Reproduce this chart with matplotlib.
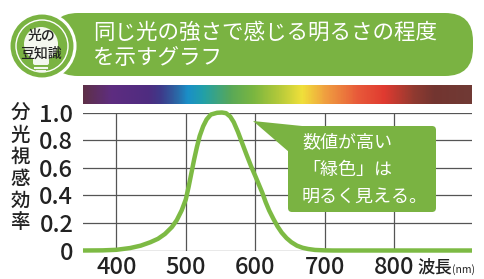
import numpy as np
import matplotlib.pyplot as plt
from matplotlib.colors import LinearSegmentedColormap
from matplotlib.patches import FancyBboxPatch, Circle, Polygon

plt.rcParams['font.family'] = ['Noto Sans CJK JP', 'DejaVu Sans']

# === データ ===
wavelength = [352, 380, 400, 420, 435, 449, 460, 470, 480, 487, 494, 500, 504, 508, 512,
              516, 520, 525, 530, 536, 545, 552, 558, 564, 569, 575, 581, 587, 594, 600,
              605, 610, 615, 620, 626, 632, 638, 645, 652, 660, 668, 676, 686, 700, 712, 912]
efficiency = [0.0, 0.001, 0.005, 0.018, 0.035, 0.06, 0.085, 0.12, 0.17, 0.22, 0.29, 0.37,
              0.46, 0.56, 0.66, 0.75, 0.83, 0.90, 0.95, 0.985, 0.998, 1.0, 0.995, 0.97,
              0.93, 0.86, 0.78, 0.70, 0.61, 0.54, 0.48, 0.42, 0.35, 0.29, 0.23, 0.175,
              0.13, 0.09, 0.06, 0.035, 0.02, 0.011, 0.004, 0.001, 0.0, 0.0]

x_ticks = [400, 500, 600, 700, 800]
y_ticks = [0, 0.2, 0.4, 0.6, 0.8, 1.0]
y_tick_labels = ['0', '0.2', '0.4', '0.6', '0.8', '1.0']
y_label_chars = list('分光視感効率')

spec_nm = [352, 391, 445, 463, 488, 502, 525, 564, 597, 632, 668, 701, 748, 787, 830, 859, 912]
spec_col = ['#5e3048', '#5e2d80', '#4f2c80', '#3e3a8a', '#2a6aa8', '#1a8fc8', '#22a0a8',
            '#58a858', '#7ab640', '#b0c83a', '#f0e03a', '#f0a040', '#e85a3a', '#e03a30',
            '#903a30', '#733530', '#703a35']

title_lines = ['同じ光の強さで感じる明るさの程度', 'を示すグラフ']
badge_lines = ['光の', '豆知識']
note_lines = ['数値が高い', '「緑色」は', '明るく見える。']

GREEN = '#7ab342'
W, H = 484, 279


def fx(px):
    return px / W


def fy(py):
    return 1 - py / H


fig = plt.figure(figsize=(W / 100, H / 100), dpi=100)

# === グラフ本体 ===
x0, x1 = 352, 912
ax = fig.add_axes([fx(83), fy(250.5), fx(472) - fx(83), (250.5 - 112.5) / H])
ax.set_xlim(x0, x1)
ax.set_ylim(0, 1.0)
for v in y_ticks:
    ax.axhline(v, color='#555555', lw=0.9, zorder=1)
for v in x_ticks:
    ax.axvline(v, color='#555555', lw=0.9, zorder=1)
ax.plot(wavelength, efficiency, color='#7dba44', lw=3.2, solid_capstyle='butt',
        solid_joinstyle='round', clip_on=False, zorder=3)
for s in ax.spines.values():
    s.set_visible(False)
ax.set_xticks(x_ticks)
ax.set_yticks(y_ticks)
ax.set_yticklabels(y_tick_labels)
ax.tick_params(length=0, labelsize=17, colors='#222222')
ax.tick_params(axis='y', pad=7)
ax.tick_params(axis='x', pad=4)
for lab in ax.get_xticklabels() + ax.get_yticklabels():
    lab.set_fontweight('medium')

# スペクトル帯
sax = fig.add_axes([fx(83), fy(104), fx(472) - fx(83), (104 - 85) / H])
stops = [(n - x0) / (x1 - x0) for n in spec_nm]
cmap = LinearSegmentedColormap.from_list('spec', list(zip(stops, spec_col)))
sax.imshow(np.linspace(0, 1, 500)[None, :], aspect='auto', cmap=cmap,
           extent=(x0, x1, 0, 1))
sax.axis('off')

# === 装飾（ピクセル座標） ===
ov = fig.add_axes([0, 0, 1, 1], zorder=5)
ov.set_xlim(0, W)
ov.set_ylim(H, 0)
ov.axis('off')
ov.patch.set_alpha(0)

# 見出し帯
ov.add_patch(FancyBboxPatch((50, 13), 423, 63, boxstyle='round,pad=0,rounding_size=28',
                            fc=GREEN, ec='none'))
ov.add_patch(Circle((42, 46), 33, fc=GREEN, ec='white', lw=2.2))
ov.add_patch(Circle((42, 46), 26, fc='none', ec='white', lw=1.0))
ov.add_patch(Circle((41, 44), 17, fc='#f4f8ee', ec='none'))
ov.add_patch(FancyBboxPatch((33, 55), 16, 10, boxstyle='round,pad=0,rounding_size=2',
                            fc='#f4f8ee', ec='none'))
ov.plot([35, 47], [68, 68], color='#f4f8ee', lw=1.5)
ov.plot([37, 45], [71, 71], color='#f4f8ee', lw=1.5)
ov.text(41, 36, badge_lines[0], fontsize=10, color='#222222', ha='center', va='center',
        fontweight='medium')
ov.text(41, 54, badge_lines[1], fontsize=10, color='#222222', ha='center', va='center',
        fontweight='medium')
ov.text(93, 33, title_lines[0], fontsize=15.5, color='white', ha='left', va='center')
ov.text(93, 58, title_lines[1], fontsize=15.5, color='white', ha='left', va='center')

# 縦書きの軸ラベル
for i, ch in enumerate(y_label_chars):
    ov.text(20, 113 + i * 22, ch, fontsize=14, color='#222222', ha='center', va='center',
            fontweight='medium')
ov.text(417, 268, '波長', fontsize=12.5, color='#222222', ha='left', va='center',
        fontweight='medium')
ov.text(452, 270, '(nm)', fontsize=7.5, color='#222222', ha='left', va='center')

# 吹き出し
ov.add_patch(Polygon([(253, 121), (302, 126), (289, 152)], closed=True, fc=GREEN, ec='none'))
ov.add_patch(FancyBboxPatch((288, 126), 148, 86, boxstyle='round,pad=0,rounding_size=4',
                            fc=GREEN, ec='none'))
for i, line in enumerate(note_lines):
    ov.text(302, 142 + i * 27.5, line, fontsize=13, color='white', ha='left', va='center')

fig.savefig('out.png', dpi=100)
